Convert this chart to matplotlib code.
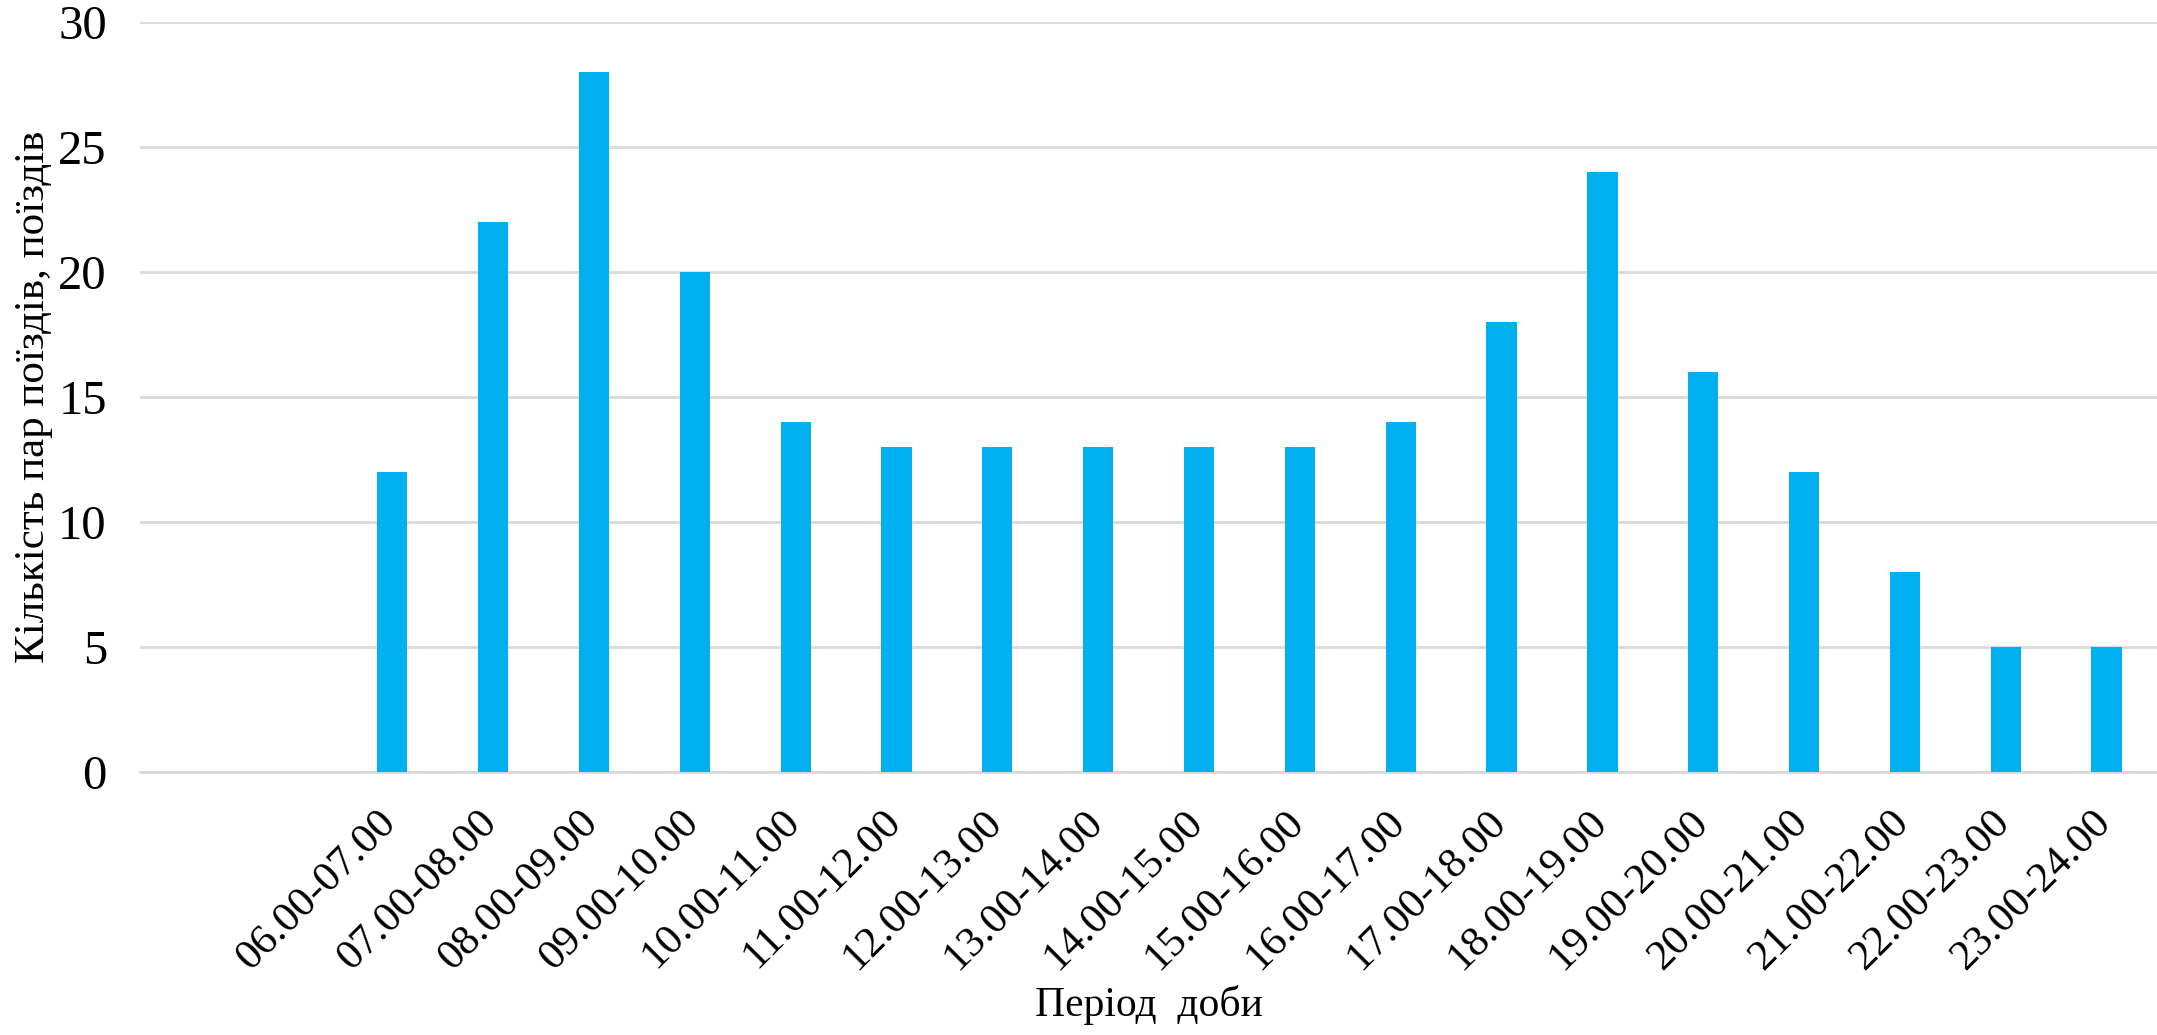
import matplotlib
matplotlib.use("Agg")
import matplotlib.pyplot as plt
import matplotlib.transforms as mtransforms
import numpy as np

# Time-of-day periods (two leading empty slots on the category axis)
periods = ["", "",
           "06.00-07.00", "07.00-08.00", "08.00-09.00", "09.00-10.00",
           "10.00-11.00", "11.00-12.00", "12.00-13.00", "13.00-14.00",
           "14.00-15.00", "15.00-16.00", "16.00-17.00", "17.00-18.00",
           "18.00-19.00", "19.00-20.00", "20.00-21.00", "21.00-22.00",
           "22.00-23.00", "23.00-24.00"]
train_pairs = [0, 0,
               12, 22, 28, 20, 14, 13, 13, 13, 13, 13, 14, 18, 24, 16, 12, 8, 5, 5]
y_ticks = [0, 5, 10, 15, 20, 25, 30]

plt.rcParams['font.family'] = ['Liberation Serif', 'DejaVu Serif']

fig = plt.figure(figsize=(21.57, 10.35), dpi=100)
ax = fig.add_axes([0.065, 0.254, 0.935, 0.725])

x = np.arange(len(periods))
ax.bar(x, train_pairs, width=0.3, color="#00b0f0", zorder=3)

ax.set_xlim(-0.5, len(periods) - 0.5)
ax.set_ylim(0, 30)
ax.set_yticks(y_ticks)
ax.set_yticklabels([str(v) for v in y_ticks], fontsize=35)
ax.set_xticks(x)
ax.set_xticklabels(periods, rotation=45, ha="right", fontsize=31)
ax.tick_params(axis="both", length=0)
ax.tick_params(axis="y", pad=24)
ax.tick_params(axis="x", pad=22)

# nudge the slanted period labels slightly to the right
shift = mtransforms.ScaledTranslation(12 / 100, 0, fig.dpi_scale_trans)
for lbl in ax.get_xticklabels():
    lbl.set_transform(lbl.get_transform() + shift)

ax.grid(axis="y", color="#d9d9d9", linewidth=2, zorder=0)
for side in ["top", "right", "left"]:
    ax.spines[side].set_visible(False)
ax.spines["bottom"].set_color("#d9d9d9")
ax.spines["bottom"].set_linewidth(2)

ax.set_ylabel("Кількість пар поїздів, поїздів", fontsize=31, labelpad=4)
ax.set_xlabel("Період  доби", fontsize=30, labelpad=6)

fig.savefig("out.png", dpi=100, facecolor="white")
